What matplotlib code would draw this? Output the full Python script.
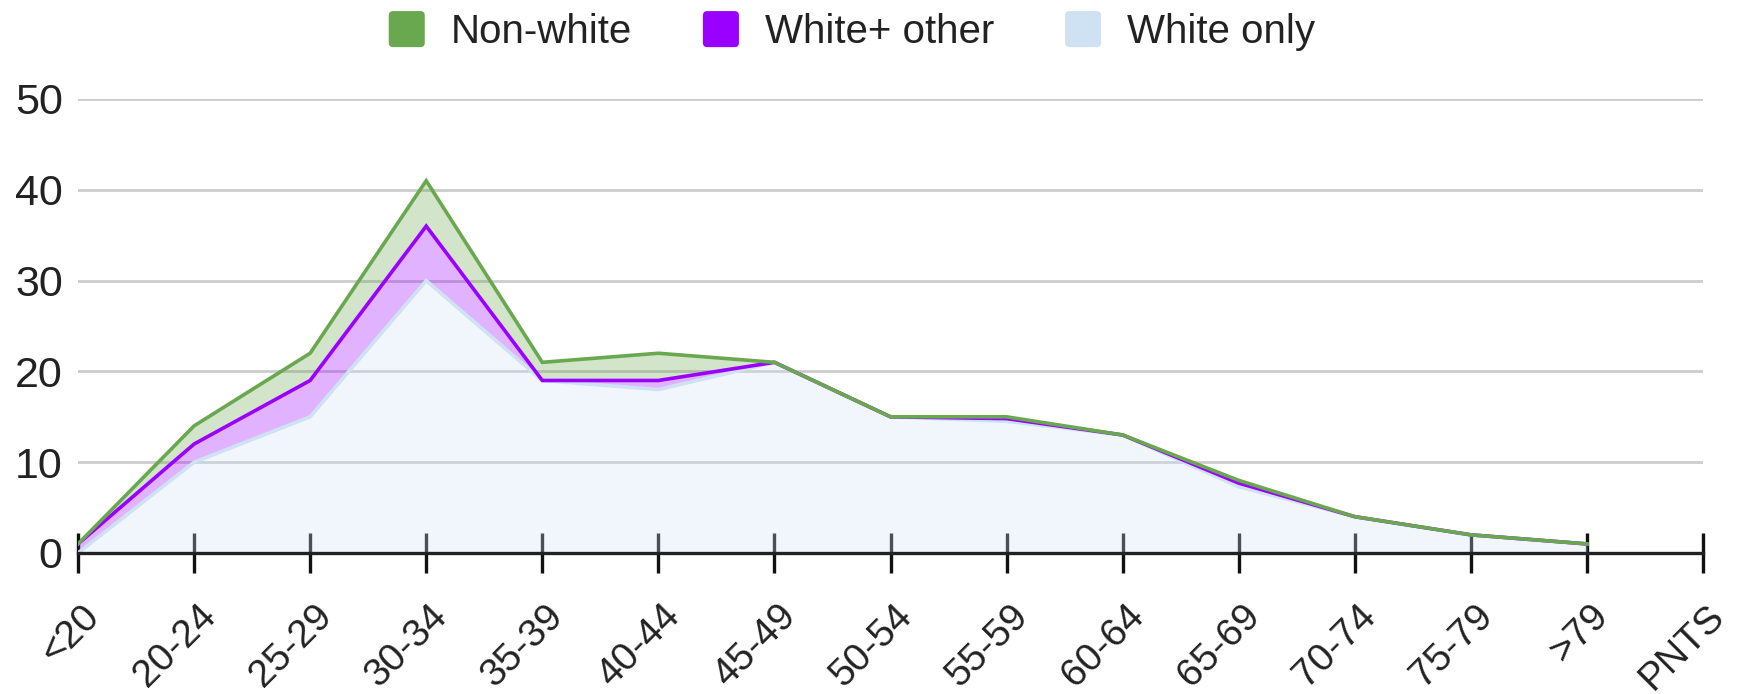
import numpy as np
import matplotlib
matplotlib.use("Agg")
import matplotlib.pyplot as plt
import matplotlib.transforms as mtransforms
from matplotlib.patches import Patch, FancyBboxPatch
from matplotlib.legend_handler import HandlerPatch

plt.rcParams['font.family'] = ['Liberation Sans', 'DejaVu Sans']

categories = ["<20", "20-24", "25-29", "30-34", "35-39", "40-44", "45-49", "50-54",
              "55-59", "60-64", "65-69", "70-74", "75-79", ">79", "PNTS"]
white_only = [0, 10, 15, 30, 19, 18, 21, 15, 14.5, 13, 7.3, 4, 2, 1, np.nan]
white_other = [1, 2, 4, 6, 0, 1, 0, 0, 0.3, 0, 0.4, 0, 0, 0, np.nan]
non_white = [0, 2, 3, 5, 2, 3, 0, 0, 0.2, 0, 0.3, 0, 0, 0, np.nan]

series_names = ["Non-white", "White+ other", "White only"]
colors = {"Non-white": "#6aa84f", "White+ other": "#9900ff", "White only": "#cfe2f3"}

x = np.arange(len(categories))
w = np.array(white_only, dtype=float)
o = np.array(white_other, dtype=float)
n = np.array(non_white, dtype=float)
top_w = w
top_o = w + o
top_n = w + o + n

fig = plt.figure(figsize=(17.37, 6.94), dpi=100)
ax = fig.add_axes([78/1737, 1-553/694, (1703-78)/1737, (553-99)/694])

valid = ~np.isnan(top_n)
base = np.zeros(len(x))
layers = [("White only", base, top_w), ("White+ other", top_w, top_o), ("Non-white", top_o, top_n)]
for name, lo, hi in layers:
    ax.fill_between(x[valid], lo[valid], hi[valid], color=colors[name], alpha=0.3, lw=0, zorder=2)
for name, lo, hi in layers:
    ax.plot(x[valid], hi[valid], color=colors[name], lw=2.6, zorder=3, solid_joinstyle='miter')

ax.set_xlim(0, len(categories) - 1)
ax.set_ylim(0, 50)
ax.set_yticks([0, 10, 20, 30, 40, 50])
ax.yaxis.grid(True, color="#cccccc", lw=2)
ax.set_axisbelow(True)
for s in ["top", "right", "left"]:
    ax.spines[s].set_visible(False)
ax.spines["bottom"].set_color("#222222")
ax.spines["bottom"].set_linewidth(2.4)
ax.spines["bottom"].set_zorder(4)
ax.tick_params(axis='y', length=0, labelsize=31, labelcolor="#222222", pad=11)
ax.set_xticks(x)
ax.set_xticklabels(categories, rotation=45, ha='right', va='center', rotation_mode='anchor')
ax.tick_params(axis='x', direction='inout', length=29.5, width=2.4, color="#111111",
               labelsize=28, labelcolor="#222222", pad=24)
shift = mtransforms.ScaledTranslation(16/100, -4/100, fig.dpi_scale_trans)
for lab in ax.get_xticklabels():
    lab.set_transform(lab.get_transform() + shift)


class RoundHandler(HandlerPatch):
    def create_artists(self, legend, orig_handle, xdescent, ydescent, width, height, fontsize, trans):
        s = min(width, height)
        p = FancyBboxPatch((-xdescent + (width - s) / 2, -ydescent + (height - s) / 2), s, s,
                           boxstyle="round,pad=0,rounding_size=%f" % (s * 0.12),
                           facecolor=orig_handle.get_facecolor(), edgecolor='none', transform=trans)
        return [p]


handles = [Patch(facecolor=colors[s], edgecolor='none', label=s) for s in series_names]
leg = fig.legend(handles=handles, loc='center', bbox_to_anchor=(851/1737, 1-31/694), ncol=3,
                 frameon=False, fontsize=29, handlelength=1.0, handleheight=1.0,
                 handletextpad=0.6, columnspacing=1.7, labelcolor="#222222",
                 handler_map={Patch: RoundHandler()})

fig.savefig("out.png", dpi=100)
